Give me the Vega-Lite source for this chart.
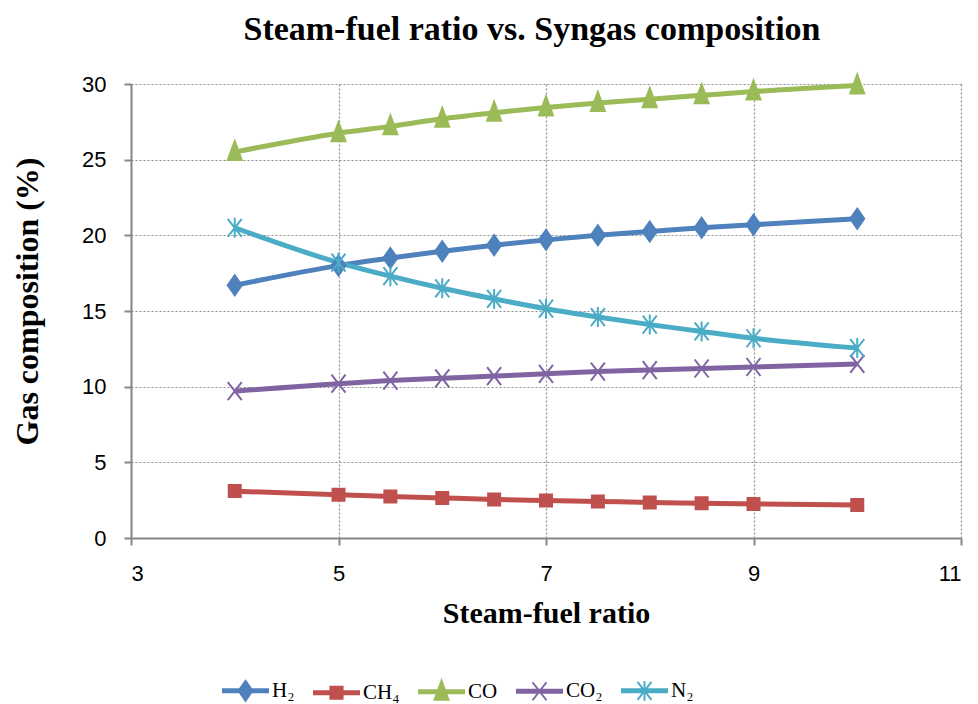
{
  "$schema": "https://vega.github.io/schema/vega-lite/v6.json",
  "autosize": "none",
  "width": 830,
  "height": 454,
  "padding": {"left": 131, "top": 84, "right": 17, "bottom": 166},
  "background": "white",
  "title": {"text": "Steam-fuel ratio vs. Syngas composition", "font": "Liberation Serif", "fontSize": 34, "fontWeight": "bold", "color": "black", "offset": 24, "anchor": "middle", "dx": -14},
  "config": {
    "view": {"stroke": null},
    "axis": {"domainColor": "#868686", "domainWidth": 2, "tickColor": "#868686", "tickWidth": 2, "tickSize": 7, "gridColor": "#8c8c8c", "gridDash": [2, 2], "gridWidth": 1.2, "labelFont": "Liberation Sans", "labelFontSize": 22, "labelColor": "black", "titleFont": "Liberation Serif", "titleFontWeight": "bold", "titleColor": "black"}
  },
  "data": {"values": [
    {"r": 4, "s": "H₂", "v": 16.7}, {"r": 5, "s": "H₂", "v": 18.0}, {"r": 5.5, "s": "H₂", "v": 18.5}, {"r": 6, "s": "H₂", "v": 18.95}, {"r": 6.5, "s": "H₂", "v": 19.35}, {"r": 7, "s": "H₂", "v": 19.7}, {"r": 7.5, "s": "H₂", "v": 20.0}, {"r": 8, "s": "H₂", "v": 20.25}, {"r": 8.5, "s": "H₂", "v": 20.5}, {"r": 9, "s": "H₂", "v": 20.7}, {"r": 10, "s": "H₂", "v": 21.1},
    {"r": 4, "s": "CH₄", "v": 3.1}, {"r": 5, "s": "CH₄", "v": 2.85}, {"r": 5.5, "s": "CH₄", "v": 2.75}, {"r": 6, "s": "CH₄", "v": 2.65}, {"r": 6.5, "s": "CH₄", "v": 2.55}, {"r": 7, "s": "CH₄", "v": 2.48}, {"r": 7.5, "s": "CH₄", "v": 2.42}, {"r": 8, "s": "CH₄", "v": 2.35}, {"r": 8.5, "s": "CH₄", "v": 2.3}, {"r": 9, "s": "CH₄", "v": 2.25}, {"r": 10, "s": "CH₄", "v": 2.18},
    {"r": 4, "s": "CO", "v": 25.5}, {"r": 5, "s": "CO", "v": 26.75}, {"r": 5.5, "s": "CO", "v": 27.2}, {"r": 6, "s": "CO", "v": 27.7}, {"r": 6.5, "s": "CO", "v": 28.1}, {"r": 7, "s": "CO", "v": 28.45}, {"r": 7.5, "s": "CO", "v": 28.75}, {"r": 8, "s": "CO", "v": 29.0}, {"r": 8.5, "s": "CO", "v": 29.25}, {"r": 9, "s": "CO", "v": 29.5}, {"r": 10, "s": "CO", "v": 29.9},
    {"r": 4, "s": "CO₂", "v": 9.7}, {"r": 5, "s": "CO₂", "v": 10.2}, {"r": 5.5, "s": "CO₂", "v": 10.4}, {"r": 6, "s": "CO₂", "v": 10.55}, {"r": 6.5, "s": "CO₂", "v": 10.7}, {"r": 7, "s": "CO₂", "v": 10.85}, {"r": 7.5, "s": "CO₂", "v": 11.0}, {"r": 8, "s": "CO₂", "v": 11.1}, {"r": 8.5, "s": "CO₂", "v": 11.2}, {"r": 9, "s": "CO₂", "v": 11.3}, {"r": 10, "s": "CO₂", "v": 11.5},
    {"r": 4, "s": "N₂", "v": 20.5}, {"r": 5, "s": "N₂", "v": 18.2}, {"r": 5.5, "s": "N₂", "v": 17.3}, {"r": 6, "s": "N₂", "v": 16.5}, {"r": 6.5, "s": "N₂", "v": 15.8}, {"r": 7, "s": "N₂", "v": 15.15}, {"r": 7.5, "s": "N₂", "v": 14.6}, {"r": 8, "s": "N₂", "v": 14.1}, {"r": 8.5, "s": "N₂", "v": 13.65}, {"r": 9, "s": "N₂", "v": 13.2}, {"r": 10, "s": "N₂", "v": 12.55}
  ]},
  "encoding": {
    "x": {"field": "r", "type": "quantitative", "scale": {"domain": [3, 11], "nice": false}, "axis": {"values": [3, 5, 7, 9, 11], "title": "Steam-fuel ratio", "titleFontSize": 30, "titlePadding": 14, "labelPadding": 18}},
    "y": {"field": "v", "type": "quantitative", "scale": {"domain": [0, 30], "nice": false}, "axis": {"values": [0, 5, 10, 15, 20, 25, 30], "title": "Gas composition (%)", "titleFontSize": 32, "titlePadding": 37, "labelPadding": 18, "titleY": 217}}
  },
  "layer": [
    {
      "mark": {"type": "line", "strokeWidth": 5, "interpolate": "monotone"},
      "encoding": {
        "color": {"field": "s", "type": "nominal", "sort": null,
          "scale": {"domain": ["H₂", "CH₄", "CO", "CO₂", "N₂"], "range": ["#4F81BD", "#C0504D", "#9BBB59", "#8064A2", "#4BACC6"]},
          "legend": {"title": null, "orient": "none", "legendX": 91, "legendY": 583, "direction": "horizontal", "symbolSize": 2025, "labelFont": "Liberation Serif", "labelFontSize": 21, "labelColor": "black", "labelOffset": 3, "columnPadding": 15,
            "encode": {"symbols": {"update": {
              "shape": {"signal": "datum.value==='H₂' ? 'M-1,-0.07H1V0.07H-1Z M0,-0.44L0.31,0L0,0.44L-0.31,0Z' : datum.value==='CH₄' ? 'M-1,-0.07H1V0.07H-1Z M-0.27,-0.27H0.27V0.27H-0.27Z' : datum.value==='CO' ? 'M-1,-0.07H1V0.07H-1Z M0,-0.49L0.31,0.36L-0.31,0.36Z' : datum.value==='CO₂' ? 'M-1,-0.07H1V0.07H-1Z M-0.31,-0.4L0.31,0.4M-0.31,0.4L0.31,-0.4' : 'M-1,-0.07H1V0.07H-1Z M-0.31,-0.4L0.31,0.4M-0.31,0.4L0.31,-0.4M0,-0.44L0,0.44'"},
              "fill": {"scale": "color", "field": "value"},
              "stroke": {"scale": "color", "field": "value"},
              "strokeWidth": {"value": 2},
              "opacity": {"value": 1},
              "fillOpacity": {"value": 1}
            }}}
          }}
      }
    },
    {
      "transform": [{"filter": "datum.s === 'H₂'"}],
      "mark": {"type": "point", "opacity": 1, "size": 100, "strokeWidth": 2, "fill": "#4F81BD", "stroke": "#4F81BD", "fillOpacity": 1, "shape": "M0,-2L1.4,0L0,2L-1.4,0Z"}
    },
    {
      "transform": [{"filter": "datum.s === 'CH₄'"}],
      "mark": {"type": "point", "opacity": 1, "size": 100, "strokeWidth": 2, "fill": "#C0504D", "stroke": "#C0504D", "fillOpacity": 1, "shape": "M-1.2,-1.2L1.2,-1.2L1.2,1.2L-1.2,1.2Z"}
    },
    {
      "transform": [{"filter": "datum.s === 'CO'"}],
      "mark": {"type": "point", "opacity": 1, "size": 100, "strokeWidth": 2, "fill": "#9BBB59", "stroke": "#9BBB59", "fillOpacity": 1, "shape": "M0,-2.2L1.4,1.6L-1.4,1.6Z"}
    },
    {
      "transform": [{"filter": "datum.s === 'CO₂'"}],
      "mark": {"type": "point", "opacity": 1, "size": 100, "strokeWidth": 2, "fill": "#8064A2", "stroke": "#8064A2", "fillOpacity": 1, "shape": "M-1.4,-1.8L1.4,1.8M-1.4,1.8L1.4,-1.8"}
    },
    {
      "transform": [{"filter": "datum.s === 'N₂'"}],
      "mark": {"type": "point", "opacity": 1, "size": 100, "strokeWidth": 2, "fill": "#4BACC6", "stroke": "#4BACC6", "fillOpacity": 1, "shape": "M-1.4,-1.8L1.4,1.8M-1.4,1.8L1.4,-1.8M0,-2L0,2"}
    }
  ]
}
